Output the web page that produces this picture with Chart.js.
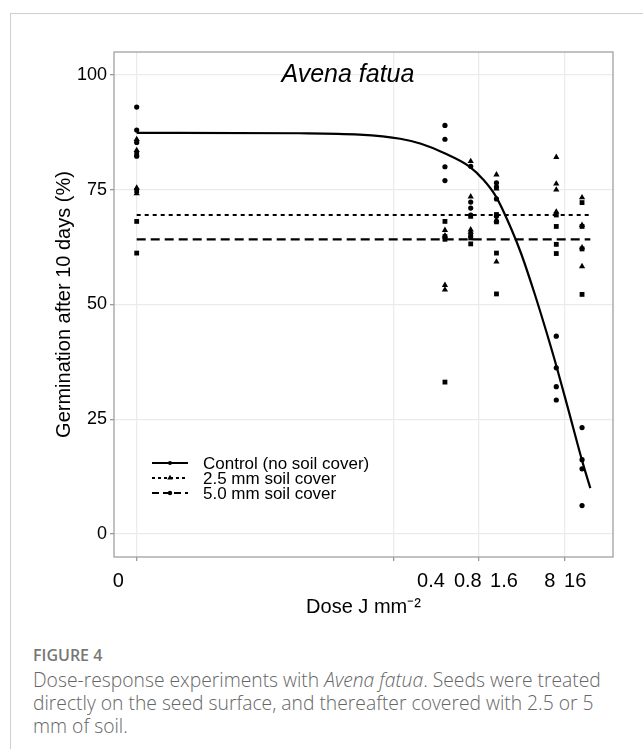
<!DOCTYPE html>
<html>
<head>
<meta charset="utf-8">
<script src="https://cdn.jsdelivr.net/npm/chart.js@4.4.0/dist/chart.umd.min.js"></script>
<style>
  html, body { margin: 0; padding: 0; background: #fff; }
  body { width: 643px; height: 749px; position: relative; overflow: hidden; }
  .frame { position: absolute; left: 10px; top: 13px; width: 700px; height: 800px;
           border-top: 1px solid #cfcfcf; border-left: 1px solid #cfcfcf; }
  #chartBox { position: absolute; left: 0; top: 0; }
  .caption { position: absolute; left: 33px; top: 645px; width: 610px;
             font-family: "Open Sans", Lato, sans-serif; color: #666; white-space: nowrap; }
  .caption .fig { font-size: 16px; line-height: 20px; font-weight: 600; color: #777; }
  .caption .txt { margin-top: 3px; font-size: 19.3px; line-height: 23px; font-weight: 300; }
</style>
</head>
<body>
<div class="frame"></div>
<canvas id="chartBox" width="643" height="625"></canvas>
<div class="caption">
  <div class="fig">FIGURE 4</div>
  <div class="txt">Dose-response experiments with <i>Avena fatua</i>. Seeds were treated<br>directly on the seed surface, and thereafter covered with 2.5 or 5<br>mm of soil.</div>
</div>
<script>
'use strict'
// dose 0 is put at 0.0001 so it fits on the log axis
const doses = [0.0001, 0.4, 0.8, 1.6, 8, 16];
const doseLabels = ['0', '0.4', '0.8', '1.6', '8', '16'];
const doseLabelAt = [0.000061, 0.275, 0.74, 1.96, 6.7, 13.3];
const gridDoses = [0.0001, 0.1, 1, 10];
const yTicks = [0, 25, 50, 75, 100];

// replicates per dose (same order as doses)
const control = [[93, 88, 85.3, 82.3], [89, 86, 80, 77], [80.1, 72.3, 71.0, 69.5],
                 [76.5, 75.6, 73, 69.2], [43.1, 36.2, 32.1, 29.2], [23.2, 16.2, 14.2, 6.2]];
const cover25 = [[86, 83.6, 75.4, 74.2], [66.2, 65, 54.2, 53.2], [81.2, 73.5, 66.3, 65.8],
                 [78.3, 75.2, 68.3, 59.3], [82.1, 76.3, 75.0, 70.2], [73.3, 67.3, 62.4, 58.3]];
const cover50 = [[82.9, 74.8, 68.1, 61.2], [68.1, 64.8, 64.2, 33.1], [69.2, 65.0, 64.5, 63.2],
                 [69.6, 68, 61.2, 52.3], [69.5, 67.0, 63.1, 61.1], [72.2, 67.0, 62.1, 52.2]];

// fitted control curve
const curveDose = [0.0001, 0.008, 0.04, 0.12, 0.21, 0.39, 0.78, 1.11, 1.58, 2.38, 3.12, 4.44, 6.14, 8.05, 11.1, 16.3, 20];
const curveGerm = [87.4, 87.3, 87.0, 86.1, 85.0, 83.0, 80.0, 77.3, 73.5, 66.5, 61.0, 52.5, 44.0, 36.5, 27.0, 15.5, 10.0];

// flat fits for the soil covers
const meanDose = [0.0001, 20];
const mean25 = 69.5;
const mean50 = 64.2;

const xMin = 5.43e-5, xMax = 36.8;
const axisFont = 'Liberation Sans, Arial, sans-serif';

const toPoints = function (arr) {
    const out = [];
    arr.forEach((vals, i) => vals.forEach(v => out.push({x: doses[i], y: v})));
    return out;
};

const panelBox = {
    id: 'panelBox',
    afterDatasetsDraw(chart) {
        const a = chart.chartArea, ctx = chart.ctx;
        ctx.save();
        ctx.strokeStyle = '#a0a0a0';
        ctx.lineWidth = 1.3;
        ctx.strokeRect(a.left, a.top, a.right - a.left, a.bottom - a.top);
        ctx.restore();
    }
};

const heading = {
    id: 'heading',
    afterDatasetsDraw(chart) {
        const ctx = chart.ctx;
        ctx.save();
        ctx.font = 'italic 25px ' + axisFont;
        ctx.fillStyle = '#000';
        ctx.textAlign = 'center';
        ctx.textBaseline = 'middle';
        ctx.fillText('Avena fatua', chart.scales.x.getPixelForValue(0.0294), chart.scales.y.getPixelForValue(100));
        ctx.restore();
    }
};

// legend: line key with its marker, like the ggplot one
const keyBox = {
    id: 'keyBox',
    afterDatasetsDraw(chart) {
        const ctx = chart.ctx, a = chart.chartArea;
        const keys = [
            {text: 'Control (no soil cover)', dash: [], style: 'circle', r: 2},
            {text: '2.5 mm soil cover', dash: [3, 3], style: 'triangle', r: 3.2},
            {text: '5.0 mm soil cover', dash: [7, 4], style: 'circle', r: 2.2}
        ];
        const x0 = a.left + 38;
        keys.forEach((k, i) => {
            const y = a.bottom - 94 + i * 15;
            ctx.save();
            ctx.strokeStyle = '#000';
            ctx.lineWidth = 2;
            ctx.setLineDash(k.dash);
            ctx.beginPath();
            ctx.moveTo(x0, y);
            ctx.lineTo(x0 + 36, y);
            ctx.stroke();
            ctx.setLineDash([]);
            ctx.fillStyle = '#000';
            Chart.helpers.drawPoint(ctx, {pointStyle: k.style, radius: k.r, rotation: 0, borderWidth: 0}, x0 + 18, y);
            ctx.font = '17px ' + axisFont;
            ctx.textBaseline = 'middle';
            ctx.fillText(k.text, x0 + 51, y + 1);
            ctx.restore();
        });
    }
};

const lineSet = function (label, data, dash, order) {
    return {
        label: label, data: data, showLine: true, borderColor: '#000', borderWidth: 2.2,
        borderDash: dash, pointRadius: 0, fill: false, cubicInterpolationMode: 'monotone', order: order
    };
};
const pointSet = function (label, data, style, r) {
    return {
        label: label, data: data, pointStyle: style, pointRadius: r, pointBorderWidth: 0,
        backgroundColor: '#000', borderColor: '#000', order: 0
    };
};

new Chart(document.getElementById('chartBox'), {
    type: 'scatter',
    data: {
        datasets: [
            lineSet('Control (no soil cover)', curveDose.map((d, i) => ({x: d, y: curveGerm[i]})), [], 1),
            lineSet('2.5 mm soil cover', meanDose.map(d => ({x: d, y: mean25})), [4, 4], 2),
            lineSet('5.0 mm soil cover', meanDose.map(d => ({x: d, y: mean50})), [9, 5], 3),
            pointSet('control points', toPoints(control), 'circle', 2.6),
            pointSet('2.5 mm points', toPoints(cover25), 'triangle', 3.6),
            pointSet('5.0 mm points', toPoints(cover50), 'rect', 3.4)
        ]
    },
    options: {
        responsive: false,
        animation: false,
        devicePixelRatio: 1,
        layout: {padding: {top: 52, right: 30, left: 0, bottom: 0}},
        plugins: {legend: {display: false}, tooltip: {enabled: false}},
        scales: {
            x: {
                type: 'logarithmic', position: 'bottom', weight: 0,
                min: xMin, max: xMax, bounds: 'data',
                afterBuildTicks: s => { s.ticks = gridDoses.map(v => ({value: v})); },
                afterFit: s => { s.height = 5; },
                grid: {color: '#ebebeb', lineWidth: 1.3, tickColor: '#999', tickLength: 4, tickWidth: 1.3},
                border: {display: false},
                ticks: {display: false}
            },
            x2: {
                type: 'logarithmic', position: 'bottom', weight: 1,
                min: xMin, max: xMax, bounds: 'data',
                afterBuildTicks: s => { s.ticks = doseLabelAt.map(v => ({value: v})); },
                afterFit: s => { s.height = 63; },
                grid: {display: false, drawTicks: false},
                border: {display: false},
                ticks: {
                    autoSkip: false, maxRotation: 0, padding: 7, color: '#000',
                    font: {family: axisFont, size: 20},
                    callback: (v, i) => doseLabels[i]
                },
                title: {
                    display: true, text: 'Dose J mm\u207B\u00B2', color: '#000',
                    font: {family: axisFont, size: 20}, padding: {top: 0, bottom: 6}
                }
            },
            y: {
                min: -5, max: 105,
                afterBuildTicks: s => { s.ticks = yTicks.map(v => ({value: v})); },
                afterFit: s => { s.width = 114; },
                grid: {color: '#ebebeb', lineWidth: 1.3, tickColor: '#999', tickLength: 4, tickWidth: 1.3},
                border: {display: false},
                ticks: {color: '#000', padding: 3, font: {family: axisFont, size: 18}},
                title: {
                    display: true, text: 'Germination after 10 days (%)', color: '#000',
                    font: {family: axisFont, size: 20}, padding: {top: 52, bottom: 0}
                }
            }
        }
    },
    plugins: [panelBox, heading, keyBox]
});
</script>
</body>
</html>
